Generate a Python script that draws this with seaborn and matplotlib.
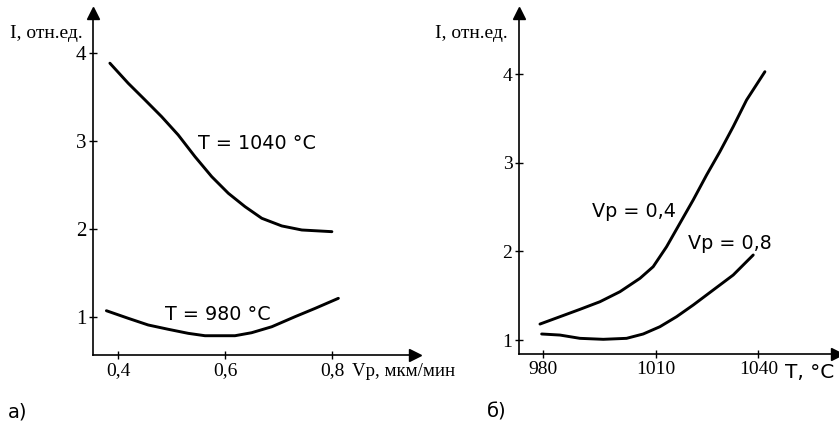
import numpy as np
import pandas as pd
import matplotlib
matplotlib.use("Agg")
import matplotlib.pyplot as plt
import seaborn as sns

# ---- data ----
vp_1040 = [0.3845, 0.4187, 0.450, 0.481, 0.512, 0.5434, 0.5746, 0.6056, 0.6368, 0.668, 0.7054, 0.7428, 0.7989]
i_1040 = [3.88, 3.652, 3.463, 3.273, 3.065, 2.818, 2.591, 2.402, 2.25, 2.118, 2.031, 1.985, 1.966]
vp_980 = [0.378, 0.4187, 0.456, 0.4935, 0.5308, 0.562, 0.618, 0.649, 0.6867, 0.730, 0.7677, 0.811]
i_980 = [1.068, 0.982, 0.906, 0.857, 0.811, 0.784, 0.784, 0.818, 0.886, 1.0, 1.095, 1.209]

t_04 = [979.12, 984.46, 989.80, 995.15, 1000.49, 1005.84, 1009.36, 1013.21, 1017.10, 1020.98,
        1024.90, 1028.78, 1032.67, 1036.58, 1041.93]
i_04 = [1.180, 1.263, 1.346, 1.432, 1.545, 1.696, 1.827, 2.052, 2.316, 2.579,
        2.861, 3.124, 3.406, 3.707, 4.026]
t_08 = [979.57, 984.46, 989.80, 996.03, 1002.25, 1006.69, 1011.26, 1016.13, 1021.0, 1026.83, 1032.67, 1038.52]
i_08 = [1.068, 1.056, 1.019, 1.008, 1.019, 1.068, 1.150, 1.263, 1.395, 1.564, 1.733, 1.959]

yticks = [1, 2, 3, 4]
vp_ticks = [0.4, 0.6, 0.8]
vp_ticklabels = ["0,4", "0,6", "0,8"]
t_ticks = [980, 1010, 1040]
t_ticklabels = ["980", "1010", "1040"]

sns.set_theme(style="white")
plt.rcParams["font.family"] = ["DejaVu Sans"]
plt.rcParams["text.color"] = "black"
plt.rcParams["xtick.color"] = "black"
plt.rcParams["ytick.color"] = "black"
plt.rcParams["axes.labelcolor"] = "black"
SERIF = ["Liberation Serif", "DejaVu Serif"]

fig = plt.figure(figsize=(8.39, 4.22), dpi=100)

def style_axes(ax):
    for s in ["top", "right"]:
        ax.spines[s].set_visible(False)
    for s in ["left", "bottom"]:
        ax.spines[s].set_color("black")
        ax.spines[s].set_linewidth(1.2)
    ax.tick_params(direction="inout", length=6, width=1, color="black", labelcolor="black",
                   pad=2, left=True, bottom=True)
    ax.plot(1, 0, ">", color="black", markersize=9, transform=ax.transAxes, clip_on=False)
    ax.plot(0, 1, "^", color="black", markersize=9, transform=ax.transAxes, clip_on=False)
    ax.set_xlabel("")
    ax.set_ylabel("")
    ax.grid(False)

LW = 2.1

# ---- left panel ----
ax1 = fig.add_axes([93 / 839, 1 - 355 / 422, (415 - 93) / 839, (355 - 13) / 422])
ax1.set_facecolor("none")
df1 = pd.DataFrame({"x": vp_1040, "y": i_1040})
df2 = pd.DataFrame({"x": vp_980, "y": i_980})
sns.lineplot(data=df1, x="x", y="y", ax=ax1, color="black", lw=LW, sort=False, estimator=None)
sns.lineplot(data=df2, x="x", y="y", ax=ax1, color="black", lw=LW, sort=False, estimator=None)
ax1.set_xlim(0.353, 0.954)
ax1.set_ylim(0.565, 4.45)
ax1.set_xticks(vp_ticks)
ax1.set_xticklabels(vp_ticklabels, family=SERIF, fontsize=14)
ax1.set_yticks(yticks)
ax1.set_yticklabels([str(v) for v in yticks], family=SERIF, fontsize=15)
style_axes(ax1)
ax1.text(0.5495, 2.97, "T = 1040 °C", fontsize=13.8, va="center", ha="left")
ax1.text(0.487, 1.02, "T = 980 °C", fontsize=13.8, va="center", ha="left")

# ---- right panel (axis drawn with unequal tick spacing as in the original) ----
def fwd(x):
    x = np.asarray(x, dtype=float)
    return np.where(x < 1010, (x - 980) * 112.3 / 30, 112.3 + (x - 1010) * 102.7 / 30)

def inv(y):
    y = np.asarray(y, dtype=float)
    return np.where(y < 112.3, 980 + y * 30 / 112.3, 1010 + (y - 112.3) * 30 / 102.7)

ax2 = fig.add_axes([519.3 / 839, 1 - 354.3 / 422, (836.7 - 519.3) / 839, (354.3 - 13) / 422])
ax2.set_facecolor("none")
ax2.set_xscale("function", functions=(fwd, inv))
df3 = pd.DataFrame({"x": t_04, "y": i_04})
df4 = pd.DataFrame({"x": t_08, "y": i_08})
sns.lineplot(data=df3, x="x", y="y", ax=ax2, color="black", lw=LW, sort=False, estimator=None)
sns.lineplot(data=df4, x="x", y="y", ax=ax2, color="black", lw=LW, sort=False, estimator=None)
ax2.set_xlim(973.6, 1062.9)
ax2.set_ylim(0.839, 4.688)
ax2.set_xticks(t_ticks)
ax2.set_xticklabels(t_ticklabels, family=SERIF, fontsize=14)
ax2.xaxis.set_minor_locator(matplotlib.ticker.NullLocator())
ax2.set_yticks(yticks)
ax2.set_yticklabels([str(v) for v in yticks], family=SERIF, fontsize=14)
style_axes(ax2)
ax2.text(992.9, 2.447, "Vp = 0,4", fontsize=13.8, va="center", ha="left")
ax2.text(1019.5, 2.09, "Vp = 0,8", fontsize=13.8, va="center", ha="left")

# ---- axis titles and panel labels ----
fig.text(10 / 839, 1 - 33 / 422, "I, отн.ед.", family=SERIF, fontsize=14, va="center", ha="left")
fig.text(435 / 839, 1 - 33 / 422, "I, отн.ед.", family=SERIF, fontsize=14, va="center", ha="left")
fig.text(352 / 839, 1 - 372 / 422, "Vp, мкм/мин", family=SERIF, fontsize=13.6, va="center", ha="left")
fig.text(785 / 839, 1 - 372 / 422, "T, °C", fontsize=14.5, va="center", ha="left")
fig.text(8 / 839, 1 - 412 / 422, "а)", fontsize=14, va="center", ha="left")
fig.text(487 / 839, 1 - 412 / 422, "б)", fontsize=14, va="center", ha="left")

fig.savefig("out.png", dpi=100)
